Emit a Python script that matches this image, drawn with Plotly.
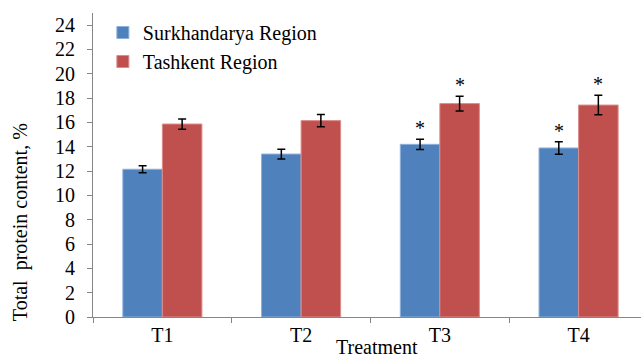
import plotly.graph_objects as go

categories = ["T1", "T2", "T3", "T4"]
surkhandarya = [12.15, 13.4, 14.2, 13.9]
surkhandarya_err = [0.28, 0.4, 0.42, 0.52]
tashkent = [15.87, 16.15, 17.55, 17.43]
tashkent_err = [0.42, 0.5, 0.6, 0.8]
surkh_marks = ["", "", "*", "*"]
tash_marks = ["", "", "*", "*"]
y_ticks = list(range(0, 25, 2))

FONT = "Liberation Serif"
BLUE = "#4F81BD"
RED = "#C0504D"

fig = go.Figure()
fig.add_trace(go.Bar(
    name="Surkhandarya Region", x=categories, y=surkhandarya,
    marker=dict(color=BLUE, line=dict(color="#8FB0DA", width=1)),
    error_y=dict(type="data", array=surkhandarya_err, color="black", thickness=1.5, width=4),
))
fig.add_trace(go.Bar(
    name="Tashkent Region", x=categories, y=tashkent,
    marker=dict(color=RED, line=dict(color="#DC8D8B", width=1)),
    error_y=dict(type="data", array=tashkent_err, color="black", thickness=1.5, width=4),
))

annotations = []
for c, v, e, m in zip(categories, surkhandarya, surkhandarya_err, surkh_marks):
    if m:
        annotations.append(dict(x=c, y=v + e, text=m, showarrow=False, xshift=-19.7,
                                yanchor="bottom", yshift=-2, font=dict(family=FONT, size=20, color="black")))
for c, v, e, m in zip(categories, tashkent, tashkent_err, tash_marks):
    if m:
        annotations.append(dict(x=c, y=v + e, text=m, showarrow=False, xshift=19.7,
                                yanchor="bottom", yshift=-2, font=dict(family=FONT, size=20, color="black")))

annotations.append(dict(xref="paper", yref="paper", x=(376.5 - 93) / 548, y=-43 / 304.5,
                        text="Treatment", showarrow=False, yanchor="bottom", yshift=1, borderpad=0,
                        font=dict(family=FONT, size=20, color="black")))
annotations.append(dict(xref="paper", yref="paper", x=(20 - 93) / 548, y=(317 - 222) / 304.5,
                        text="Total\u00a0 protein content, %", showarrow=False, textangle=-90,
                        xanchor="center", yanchor="middle",
                        font=dict(family=FONT, size=20, color="black")))

fig.update_layout(
    width=641, height=360,
    margin=dict(l=93, r=0, t=12.5, b=43),
    paper_bgcolor="white", plot_bgcolor="white",
    barmode="group", bargap=0.43, bargroupgap=0,
    font=dict(family=FONT, size=20, color="black"),
    showlegend=True,
    legend=dict(x=0.018, y=1.0, xanchor="left", yanchor="top",
                bgcolor="rgba(0,0,0,0)", font=dict(family=FONT, size=20, color="black"),
                itemwidth=30, tracegroupgap=0),
    annotations=annotations,
    xaxis=dict(range=[-0.5, 3.45], showline=True, linecolor="#868686", linewidth=1,
               ticks="outside", tickson="boundaries", ticklen=5, tickcolor="#868686",
               showgrid=False, zeroline=False, automargin=False,
               tickfont=dict(family=FONT, size=20, color="black")),
    yaxis=dict(range=[0, 25], tickvals=y_ticks, showline=True, linecolor="#868686", linewidth=1,
               ticks="outside", ticklen=5, tickcolor="#868686", showgrid=False, zeroline=False,
               ticklabelstandoff=8, automargin=False,
               tickfont=dict(family=FONT, size=20, color="black")),
)

fig.write_html("out.html", config={"displayModeBar": False},
               post_script="document.body.style.margin='0';document.body.style.overflow='hidden';")
